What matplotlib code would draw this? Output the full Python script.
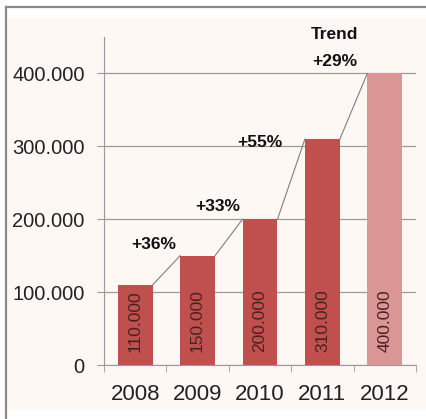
import numpy as np
import matplotlib.pyplot as plt
from matplotlib.patches import Rectangle
from matplotlib.lines import Line2D

# data
years = ['2008', '2009', '2010', '2011', '2012']
values = [110000, 150000, 200000, 310000, 400000]
growth_labels = ['+36%', '+33%', '+55%', '+29%']
growth_pos = [(0.30, 165000), (1.33, 218000), (2.00, 305000), (3.20, 416000)]
trend_title = 'Trend'
yticks = [0, 100000, 200000, 300000, 400000]

bar_colors = ['#c0504d', '#c0504d', '#c0504d', '#c0504d', '#d99694']
W, H = 427, 419
narrow = ['Liberation Sans Narrow', 'Liberation Sans']

fig = plt.figure(figsize=(W / 100, H / 100), dpi=100, facecolor='white')

# cream panel + grey frame
fig.patches.append(Rectangle((8 / W, 1 - 408 / H), 1, (408 - 18) / H,
                             transform=fig.transFigure, color='#fdf8f4', zorder=-10))
fig.lines.append(Line2D([6.5 / W, 1], [1 - 7.5 / H, 1 - 7.5 / H], transform=fig.transFigure,
                        color='#8a8a8a', lw=1.6, zorder=-5))
fig.lines.append(Line2D([6.5 / W, 6.5 / W], [0, 1 - 7.5 / H], transform=fig.transFigure,
                        color='#8a8a8a', lw=1.6, zorder=-5))

ax = fig.add_axes([104 / W, 1 - 365 / H, (416 - 104) / W, (365 - 37) / H])
ax.set_facecolor('none')

x = np.arange(len(years))
bw = 0.56
ax.bar(x, values, width=bw, color=bar_colors, zorder=3)

# trend line: top right corner of each bar to top left of next one
for i in range(len(values) - 1):
    ax.plot([x[i] + bw / 2, x[i + 1] - bw / 2], [values[i], values[i + 1]],
            color='#7f7f7f', lw=0.8, zorder=4)

for xi, v in zip(x, values):
    ax.annotate(f'{v:,}'.replace(',', '.'), (xi, 0), xytext=(0, 13), textcoords='offset pixels',
                rotation=90, ha='center', va='bottom', fontsize=12.5,
                family='Liberation Sans', color='#4a2020', zorder=5)

for lab, (px, py) in zip(growth_labels, growth_pos):
    ax.text(px, py, lab, ha='center', va='center', fontsize=12.5, fontweight='bold',
            family=narrow, color='#111111', zorder=5)
ax.text(growth_pos[-1][0], 454000, trend_title, ha='center', va='center', fontsize=12.5,
        fontweight='bold', family=narrow, color='#111111', clip_on=False)

ax.set_xlim(-0.5, len(years) - 0.5)
ax.set_ylim(0, 450000)
ax.set_yticks(yticks)
ax.set_yticklabels([f'{t:,}'.replace(',', '.') for t in yticks])
ax.yaxis.grid(True, color='#9a9a9a', lw=0.9, zorder=1)
ax.set_axisbelow(True)

ax.set_xticks(x)
ax.set_xticklabels(years)
ax.set_xticks(np.arange(-0.5, len(years)), minor=True)
ax.tick_params(axis='x', which='major', length=0, pad=13.5, labelsize=16, labelcolor='#222222')
ax.tick_params(axis='x', which='minor', length=5, color='#9a9a9a', direction='out')
ax.tick_params(axis='y', length=5, color='#9a9a9a', pad=9, labelsize=14.5, labelcolor='#222222')
for lab in ax.get_xticklabels():
    lab.set_family(narrow)
for lab in ax.get_yticklabels():
    lab.set_family('Liberation Sans')

for s in ['top', 'right']:
    ax.spines[s].set_visible(False)
ax.spines['left'].set_color('#9a9a9a')
ax.spines['bottom'].set_color('#9a9a9a')

fig.savefig('out.png', dpi=100, facecolor=fig.get_facecolor())
